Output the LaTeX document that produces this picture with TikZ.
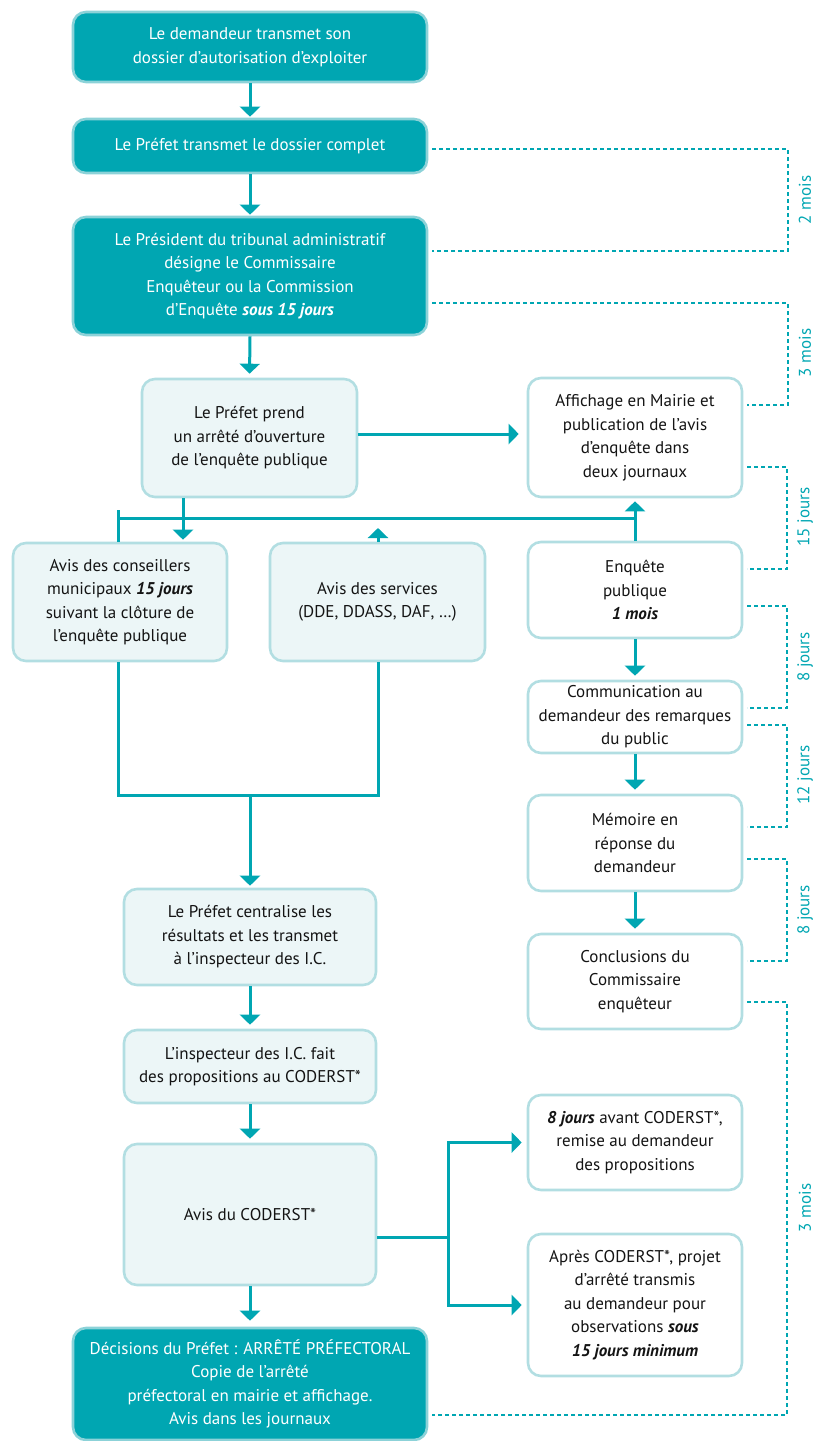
\documentclass[tikz,border=0pt]{standalone}
\usepackage{fontspec}
\setmainfont{PT Sans}
\usetikzlibrary{arrows.meta}
\definecolor{teal1}{RGB}{0,166,178}
\definecolor{tealborder}{RGB}{140,210,216}
\definecolor{lightfill}{RGB}{236,246,247}
\definecolor{lightborder}{RGB}{178,222,226}
\definecolor{txt}{RGB}{20,20,20}
\tikzset{
 box/.style={rounded corners=13pt, line width=2.6pt, align=center, inner sep=2pt, font=\fontsize{17}{23.5}\selectfont},
 darkbox/.style={box, fill=teal1, draw=tealborder, text=white},
 lightbox/.style={box, fill=lightfill, draw=lightborder, text=txt},
 whitebox/.style={box, fill=white, draw=lightborder, text=txt},
 conn/.style={draw=teal1, line width=3pt},
 arr/.style={conn, -{Triangle[width=20pt,length=10pt]}, shorten >=4pt},
 dsh/.style={draw=teal1, line width=1.2pt, dash pattern=on 4pt off 3pt},
 lab/.style={text=teal1, rotate=90, font=\fontsize{17}{19}\selectfont},
}
\newcommand{\bi}[1]{\textbf{\textit{#1}}}
\begin{document}
\begin{tikzpicture}[x=1pt,y=-1pt]
\useasboundingbox (0,0) rectangle (816,1441);

% left / main column
\node[darkbox, minimum width=354pt, minimum height=70pt] (b1) at (250,47) {Le demandeur transmet son\\dossier d’autorisation d’exploiter};
\node[darkbox, minimum width=354pt, minimum height=54pt] (b2) at (250,146) {Le Préfet transmet le dossier complet};
\node[darkbox, minimum width=354pt, minimum height=118pt] (b3) at (250,276) {Le Président du tribunal administratif\\désigne le Commissaire\\Enquêteur ou la Commission\\d’Enquête \bi{sous 15 jours}};
\node[lightbox, minimum width=215pt, minimum height=118pt] (b4) at (249.5,438) {Le Préfet prend\\un arrêté d’ouverture\\de l’enquête publique};
\node[whitebox, minimum width=214pt, minimum height=119pt] (b5) at (635,437.5) {Affichage en Mairie et\\publication de l’avis\\d’enquête dans\\deux journaux};
\node[lightbox, minimum width=214pt, minimum height=118pt] (b6) at (120,602) {Avis des conseillers\\municipaux \bi{15 jours}\\suivant la clôture de\\l’enquête publique};
\node[lightbox, minimum width=215pt, minimum height=118pt] (b7) at (377.5,602) {Avis des services\\(DDE, DDASS, DAF, …)};
\node[whitebox, minimum width=214pt, minimum height=96pt] (b8) at (635,590) {Enquête\\publique\\\bi{1 mois}};
\node[whitebox, minimum width=214pt, minimum height=72pt] (b9) at (635,717) {Communication au\\demandeur des remarques\\du public};
\node[whitebox, minimum width=214pt, minimum height=96pt] (b10) at (635,843) {Mémoire en\\réponse du\\demandeur};
\node[whitebox, minimum width=214pt, minimum height=95pt] (b11) at (635,981.5) {Conclusions du\\Commissaire\\enquêteur};
\node[lightbox, minimum width=252pt, minimum height=96pt] (b12) at (250,937) {Le Préfet centralise les\\résultats et les transmet\\à l’inspecteur des I.C.};
\node[lightbox, minimum width=252pt, minimum height=73pt] (b13) at (250,1066.5) {L’inspecteur des I.C. fait\\des propositions au CODERST*};
\node[lightbox, minimum width=252pt, minimum height=141pt] (b14) at (250,1214.5) {Avis du CODERST*};
\node[darkbox, minimum width=354pt, minimum height=112pt] (b15) at (250,1384) {Décisions du Préfet : ARRÊTÉ PRÉFECTORAL\\Copie de l’arrêté\\préfectoral en mairie et affichage.\\Avis dans les journaux};
\node[whitebox, minimum width=214pt, minimum height=95pt] (b16) at (635,1142.5) {\bi{8 jours} avant CODERST*,\\remise au demandeur\\des propositions};
\node[whitebox, minimum width=214pt, minimum height=142pt] (b17) at (635,1305) {Après CODERST*, projet\\d’arrêté transmis\\au demandeur pour\\observations \bi{sous}\\\bi{15 jours minimum}};

% helper coordinates
\coordinate (xL) at (118,0);
\coordinate (xA) at (183,0);
\coordinate (xM) at (378,0);
\coordinate (xR) at (635,0);
\coordinate (xJ) at (448,0);
\coordinate (yTop) at (0,510);
\coordinate (yBar) at (0,518);
\coordinate (yMid) at (0,528);
\coordinate (yH) at (0,434);
\coordinate (yJoin) at (0,795);
\coordinate (yB) at (0,1237);

% connectors
\draw[arr, shorten >=1pt] (b1) -- (b2);
\draw[arr, shorten >=1pt] (b2) -- (b3);
\draw[arr] (b3.south) -- (b4.north);
\draw[arr, shorten >=8pt] (b4.east |- yH) -- (b5.west |- yH);
\draw[conn] (xL |- yTop) -- (b6.north -| xL);
\draw[conn] (xL |- yBar) -- (xR |- yBar);
\draw[arr, shorten >=2pt] (b4.south -| xA) -- (b6.north -| xA);
\draw[arr, shorten >=0pt] (b7.north -| xM) -- (xM |- yMid);
\draw[arr, shorten >=3pt] (b8.north) -- (b5.south);
\draw[arr] (b8) -- (b9);
\draw[arr] (b9) -- (b10);
\draw[arr] (b10) -- (b11);
\draw[conn] (b6.south -| xL) -- (xL |- yJoin) -- (xM |- yJoin) -- (b7.south -| xM);
\draw[arr, shorten >=2pt] (b12.north |- yJoin) -- (b12.north);
\draw[arr] (b12) -- (b13);
\draw[arr] (b13) -- (b14);
\draw[arr, shorten >=6pt] (b14) -- (b15);
\draw[conn] (b14.east |- yB) -- (xJ |- yB);
\draw[arr, shorten >=5pt] (xJ |- yB) |- (b16.west);
\draw[arr, shorten >=5pt] (xJ |- yB) |- (b17.west);

% duration brackets
\draw[dsh] (432,149) -- (788,149) -- (788,251) -- (432,251);
\draw[dsh] (432,303) -- (788,303) -- (788,405) -- (747,405);
\draw[dsh] (747,467) -- (787,467) -- (787,569) -- (747,569);
\draw[dsh] (747,606) -- (787,606) -- (787,708) -- (747,708);
\draw[dsh] (747,725) -- (787,725) -- (787,827) -- (747,827);
\draw[dsh] (747,859) -- (787,859) -- (787,961) -- (747,961);
\draw[dsh] (747,1002) -- (787,1002) -- (787,1415) -- (432,1415);

\node[lab] (l1) at (805,200) {2 mois};
\node[lab] (l2) at (805,353) {3 mois};
\node[lab] (l3) at (805,517) {15 jours};
\node[lab] (l4) at (805,657) {8 jours};
\node[lab] (l5) at (805,775) {12 jours};
\node[lab] (l6) at (805,910) {8 jours};
\node[lab] (l7) at (805,1208) {3 mois};
\end{tikzpicture}
\end{document}
